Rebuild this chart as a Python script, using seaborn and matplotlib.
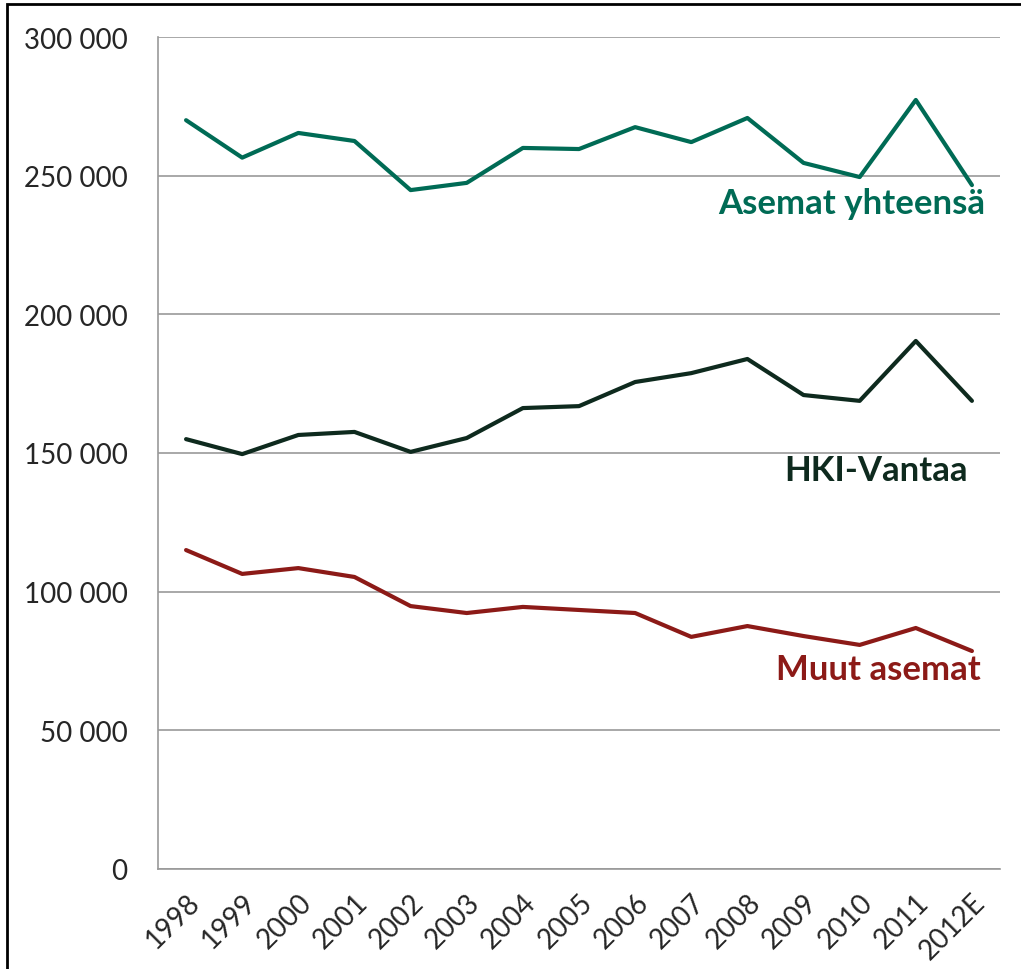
import numpy as np
import pandas as pd
import matplotlib
matplotlib.use("Agg")
import matplotlib.pyplot as plt
import seaborn as sns
from matplotlib.patches import Rectangle

years = ["1998", "1999", "2000", "2001", "2002", "2003", "2004", "2005",
         "2006", "2007", "2008", "2009", "2010", "2011", "2012E"]
asemat_yhteensa = [270000, 256500, 265400, 262500, 244800, 247400, 260000, 259600,
                   267500, 262100, 270800, 254600, 249500, 277300, 246600]
hki_vantaa = [155000, 149600, 156500, 157600, 150400, 155400, 166200, 166900,
              175600, 178800, 183900, 170900, 168800, 190400, 168800]
muut_asemat = [115000, 106400, 108500, 105300, 94800, 92300, 94500, 93400,
               92300, 83700, 87600, 84000, 80800, 86900, 78600]

series_names = ["Asemat yhteensä", "HKI-Vantaa", "Muut asemat"]
series_colors = ["#006b55", "#0e2a1e", "#8c1a17"]

df = pd.DataFrame({"year": years,
                   series_names[0]: asemat_yhteensa,
                   series_names[1]: hki_vantaa,
                   series_names[2]: muut_asemat})
long_df = df.melt(id_vars="year", var_name="series", value_name="value")
long_df["pos"] = long_df["year"].map({y: i for i, y in enumerate(years)})

sns.set_style("white")
plt.rcParams["font.family"] = ["Lato", "DejaVu Sans"]

fig = plt.figure(figsize=(10.21, 9.70), dpi=100)
ax = fig.add_axes([158 / 1021, 1 - 870 / 970, (1000 - 158) / 1021, (870 - 38) / 970])

sns.lineplot(data=long_df, x="pos", y="value", hue="series",
             palette=dict(zip(series_names, series_colors)),
             linewidth=3, legend=False, ax=ax)

ax.set_xlim(-0.5, len(years) - 0.5)
ax.set_ylim(0, 300000)
ax.set_yticks(np.arange(0, 300001, 50000))
ax.set_yticklabels([f"{int(v):,}".replace(",", " ") for v in np.arange(0, 300001, 50000)],
                   fontsize=20)
ax.yaxis.grid(True, color="#999999", linewidth=1.2)
ax.xaxis.grid(False)
ax.set_axisbelow(True)

# category ticks between groups, labels at centers
ax.set_xticks(np.arange(-0.5, len(years)), minor=False)
ax.set_xticklabels([])
ax.set_xticks(np.arange(len(years)), minor=True)
ax.set_xticklabels(years, minor=True, rotation=45, ha="right",
                   rotation_mode="anchor", fontsize=20)
ax.tick_params(axis="x", which="major", length=10, width=1.2, color="#999999", direction="out")
ax.tick_params(axis="x", which="minor", length=0, pad=14)
ax.tick_params(axis="y", length=10, width=1.2, color="#999999", direction="out", pad=12)

for side in ["top", "right"]:
    ax.spines[side].set_visible(False)
for side in ["left", "bottom"]:
    ax.spines[side].set_color("#999999")
    ax.spines[side].set_linewidth(1.2)
ax.set_xlabel("")
ax.set_ylabel("")

ax.text(14.24, 240000, "Asemat yhteensä", color=series_colors[0], fontsize=25,
        fontweight="bold", ha="right", va="center")
ax.text(13.92, 144000, "HKI-Vantaa", color=series_colors[1], fontsize=25,
        fontweight="bold", ha="right", va="center")
ax.text(14.15, 72000, "Muut asemat", color=series_colors[2], fontsize=25,
        fontweight="bold", ha="right", va="center")

fig.patches.append(Rectangle((7 / 1021, -0.1), 1.2, 1 - 5 / 970 + 0.1,
                             transform=fig.transFigure, fill=False,
                             edgecolor="black", linewidth=2))

fig.savefig("out.png", dpi=100)
